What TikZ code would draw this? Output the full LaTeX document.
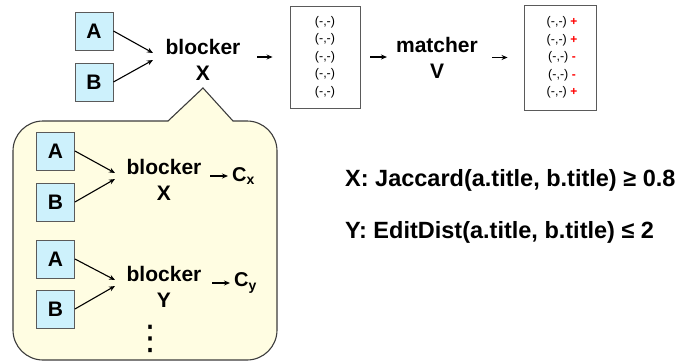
\documentclass[tikz,border=0pt]{standalone}
\usepackage{fontspec}
\setmainfont{Liberation Sans}
\newfontfamily\symfont{DejaVu Sans}
\usetikzlibrary{arrows.meta}
\definecolor{tblfill}{RGB}{205,241,252}
\definecolor{tbldraw}{RGB}{90,90,90}
\definecolor{calloutfill}{RGB}{255,253,226}
\definecolor{calloutdraw}{RGB}{60,60,60}
\definecolor{signred}{RGB}{255,0,0}
\begin{document}
\begin{tikzpicture}[x=1pt,y=-1pt,
  tbl/.style={draw=tbldraw, fill=tblfill, line width=0.9pt, minimum width=38pt, minimum height=38pt,
              inner sep=0pt, font=\bfseries\fontsize{21}{21}\selectfont},
  op/.style={inner sep=0pt, align=center, font=\bfseries\fontsize{21}{26}\selectfont},
  pairbox/.style={draw=tbldraw, line width=0.9pt, inner sep=0pt},
  pairs/.style={inner sep=0pt, align=center, font=\fontsize{12.5}{17.6}\selectfont},
  arr/.style={-{Stealth[length=6pt,width=5pt]}, line width=1.1pt},
  cond/.style={anchor=west, inner sep=0pt, font=\bfseries\fontsize{23.5}{23.5}\selectfont},
  sub/.style={anchor=west, inner sep=0pt, font=\bfseries\fontsize{20}{20}\selectfont}]
\useasboundingbox (0,0) rectangle (691,362);

% ---------- top pipeline ----------
\node[tbl] (A1) at (94,31) {A};
\node[tbl] (B1) at (94,82) {B};
\node[op] (blk) at (203,60) {blocker\\X};
\coordinate (blkA) at (153,53);
\coordinate (blkB) at (153,60);
\draw[arr] (A1.east) -- (blkA);
\draw[arr] (B1.east) -- (blkB);

\node[pairbox, minimum width=70pt, minimum height=102pt] (cand) at (325,57) {};
\node[pairs] at (cand.center) {(-,-)\\(-,-)\\(-,-)\\(-,-)\\(-,-)};
\draw[arr, shorten <=16.5pt, shorten >=17pt] (blk.east |- cand.west) -- (cand.west);

\node[op] (mat) at (437,58) {matcher\\V};
\draw[arr, shorten <=10pt, shorten >=9pt] (cand.east) -- (mat.west |- cand.east);

\node[pairbox, minimum width=72pt, minimum height=105pt] (out) at (560,57.5) {};
\node[pairs] at ([xshift=2pt]out.center)
  {(-,-) {\color{signred}\bfseries\large +}\\(-,-) {\color{signred}\bfseries\large +}\\(-,-) {\color{signred}\bfseries\large -}\\(-,-) {\color{signred}\bfseries\large -}\\(-,-) {\color{signred}\bfseries\large +}};
\draw[arr, shorten <=14pt, shorten >=16pt] (mat.east |- out.west) -- (out.west);

% ---------- callout ----------
\draw[fill=calloutfill, draw=calloutdraw, line width=1.1pt]
  (168,121) -- (203,88) -- (233,121) -- (247,121)
  arc[start angle=-90, end angle=0, radius=30] -- (277,330)
  arc[start angle=0, end angle=90, radius=30] -- (43,360)
  arc[start angle=90, end angle=180, radius=30] -- (13,151)
  arc[start angle=180, end angle=270, radius=30] -- cycle;

% first blocker inside the callout
\node[tbl] (A2) at (55.5,151) {A};
\node[tbl] (B2) at (55.5,202) {B};
\node[op] (blk2) at (164,180) {blocker\\X};
\coordinate (blk2A) at (115,173);
\coordinate (blk2B) at (115,179);
\draw[arr] (A2.east) -- (blk2A);
\draw[arr] (B2.east) -- (blk2B);
\node[sub] (cx) at (232,176) {C\textsubscript{x}};
\draw[arr, shorten <=8.5pt, shorten >=4pt] (blk2.east |- cx.west) -- (cx.west);

% second blocker inside the callout
\node[tbl] (A3) at (55.5,259) {A};
\node[tbl] (B3) at (55.5,309) {B};
\node[op] (blk3) at (164,287) {blocker\\Y};
\coordinate (blk3A) at (115,280);
\coordinate (blk3B) at (115,286);
\draw[arr] (A3.east) -- (blk3A);
\draw[arr] (B3.east) -- (blk3B);
\node[sub] (cy) at (234,283) {C\textsubscript{y}};
\draw[arr, shorten <=10.5pt, shorten >=4pt] (blk3.east |- cy.west) -- (cy.west);

\node[inner sep=0pt, font=\symfont\fontsize{34}{34}\selectfont] (dots) at (150,339) {⋮};

% ---------- blocker conditions ----------
\node[cond] (condX) at (345,180) {X: Jaccard(a.title, b.title) ≥ 0.8};
\node[cond] (condY) at (345,232) {Y: EditDist(a.title, b.title) ≤ 2};
\end{tikzpicture}
\end{document}
